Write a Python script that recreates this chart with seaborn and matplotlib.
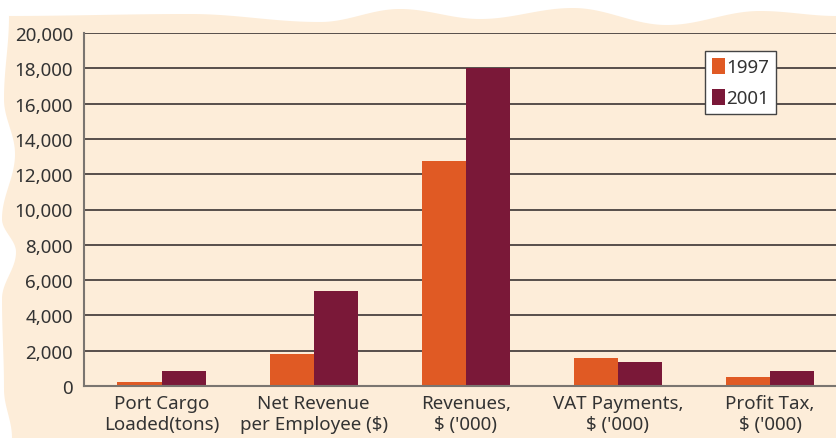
import numpy as np
import pandas as pd
import matplotlib
matplotlib.use("Agg")
import matplotlib.pyplot as plt
from matplotlib.patches import Polygon
import seaborn as sns

# data
categories = ["Port Cargo\nLoaded(tons)", "Net Revenue\nper Employee ($)",
              "Revenues,\n$ ('000)", "VAT Payments,\n$ ('000)", "Profit Tax,\n$ ('000)"]
years = ["1997", "2001"]
values_1997 = [250, 1790, 12770, 1600, 530]
values_2001 = [870, 5400, 18000, 1380, 870]
y_ticks = [0, 2000, 4000, 6000, 8000, 10000, 12000, 14000, 16000, 18000, 20000]

df = pd.DataFrame({
    "categorie": categories * 2,
    "annee": [years[0]] * 5 + [years[1]] * 5,
    "valeur": values_1997 + values_2001,
})

PEACH = "#FDEDD9"
ORANGE = "#E05A24"
MAROON = "#7A1838"
TEXT = "#333333"

sns.set_style("white")
plt.rcParams["font.family"] = ["Noto Sans", "DejaVu Sans"]

W, H = 837, 439
fig = plt.figure(figsize=(W / 100, H / 100), dpi=100, facecolor="white")


def wavy(points, n=60):
    # smooth cosine blend between extremes, for the torn-paper edge
    out = []
    for (a0, b0), (a1, b1) in zip(points[:-1], points[1:]):
        t = np.linspace(0, 1, n, endpoint=False)
        s = (1 - np.cos(np.pi * t)) / 2
        out += list(zip(a0 + (a1 - a0) * t, b0 + (b1 - b0) * s))
    out.append(points[-1])
    return out


top = wavy([(5, 17), (190, 15), (320, 23), (400, 10), (480, 20), (573, 9),
            (667, 26), (760, 12), (837, 17)])
left = wavy([(17, 9), (100, 4), (155, 15), (220, 2), (253, 16), (300, 2),
             (390, 4), (439, 12)])
poly = [(x, y) for x, y in top] + [(837, 439)] + [(x, y) for y, x in reversed(left)]
poly = [(x / W, 1 - y / H) for x, y in poly]
fig.patches.append(Polygon(poly, closed=True, transform=fig.transFigure,
                           facecolor=PEACH, edgecolor="none", zorder=-5))

ax = fig.add_axes([84 / W, (H - 387) / H, (W - 84) / W, (387 - 34) / H])
ax.set_zorder(2)
ax.patch.set_alpha(0)

sns.barplot(data=df, x="categorie", y="valeur", hue="annee",
            palette=[ORANGE, MAROON], width=0.58, saturation=1,
            linewidth=0, ax=ax, zorder=3)

ax.set_ylim(0, 20000)
ax.set_xlim(-0.51, 4.44)
ax.set_yticks(y_ticks)
ax.set_yticklabels([f"{v:,}" for v in y_ticks])
ax.set_xlabel("")
ax.set_ylabel("")
ax.yaxis.grid(True, color="#3b3333", linewidth=1.2)
ax.set_axisbelow(True)
ax.tick_params(axis="both", length=0, labelsize=13.5, colors=TEXT)
ax.tick_params(axis="y", pad=8)
ax.tick_params(axis="x", pad=6)
for lab in ax.get_xticklabels():
    lab.set_linespacing(1.2)

for side in ["top", "right"]:
    ax.spines[side].set_visible(False)
for side in ["left", "bottom"]:
    ax.spines[side].set_color("#7a7570")
    ax.spines[side].set_linewidth(1.5)
    ax.spines[side].set_zorder(4)

handles, labels = ax.get_legend_handles_labels()
leg = ax.legend(handles, labels, loc="upper left",
                bbox_to_anchor=((705 - 84) / 753, 1 - (52 - 34) / 353),
                frameon=True, fancybox=False, fontsize=13.5,
                handlelength=0.7, handleheight=1.0, handletextpad=0.1,
                labelspacing=0.65, borderpad=0.35, borderaxespad=0)
leg.get_frame().set_edgecolor("#444444")
leg.get_frame().set_linewidth(1.0)
leg.get_frame().set_facecolor("white")
leg.get_frame().set_alpha(1)
for t in leg.get_texts():
    t.set_color(TEXT)

fig.savefig("out.png", dpi=100, facecolor="white")
